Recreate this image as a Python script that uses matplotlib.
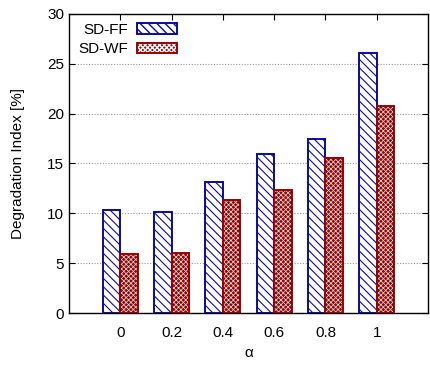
import numpy as np
import matplotlib.pyplot as plt
from matplotlib.patches import Patch

plt.rcParams['font.family'] = ['Liberation Sans', 'DejaVu Sans']

alphas = ['0', '0.2', '0.4', '0.6', '0.8', '1']
sd_ff = [10.3, 10.1, 13.1, 16.0, 17.5, 26.1]
sd_wf = [5.9, 6.0, 11.3, 12.3, 15.6, 20.8]

blue = '#0a0a9a'
red = '#9a0000'
fs = 11

fig = plt.figure(figsize=(4.30, 3.66), dpi=100)
ax = fig.add_axes([0.1605, 0.1448, 0.835, 0.817])

x = np.arange(len(alphas))
w = 0.34
with plt.rc_context({'hatch.linewidth': 0.8}):
    ax.bar(x - w / 2, sd_ff, w, facecolor='white', edgecolor=blue, hatch='\\\\\\\\', linewidth=1.4, zorder=3)
    h1 = Patch(facecolor='white', edgecolor=blue, hatch='\\\\\\\\', linewidth=1.4)
with plt.rc_context({'hatch.linewidth': 0.45}):
    # red bars: solid fill with white cross hatch, then dark outline
    ax.bar(x + w / 2, sd_wf, w, facecolor=red, edgecolor='white', hatch='xxxxxxx', linewidth=0, zorder=3)
    h2a = Patch(facecolor=red, edgecolor='white', hatch='xxxxxxx', linewidth=0)
ax.bar(x + w / 2, sd_wf, w, fill=False, edgecolor=red, linewidth=1.4, zorder=4)
h2b = Patch(fill=False, edgecolor=red, linewidth=1.4)

ax.set_xlim(-1, 6)
ax.set_ylim(0, 30)
ax.set_xticks(x)
ax.set_xticklabels(alphas)
ax.set_yticks(np.arange(0, 31, 5))
ax.tick_params(direction='in', top=True, right=True, labelsize=fs, length=4)
ax.tick_params(axis='x', pad=9)
ax.yaxis.grid(True, linestyle=(0, (1, 1.5)), color='#999999', linewidth=0.8, zorder=0)
for s in ax.spines.values():
    s.set_linewidth(1.0)

ax.set_xlabel('α', fontsize=fs, labelpad=5)
ax.set_ylabel('Degradation Index [%]', fontsize=fs, labelpad=16)

ax.legend([h1, (h2a, h2b)], ['SD-FF', 'SD-WF'], loc='upper left', frameon=False, markerfirst=False,
          fontsize=fs, handlelength=2.6, handleheight=0.7, borderaxespad=0.2,
          labelspacing=0.35, handletextpad=0.6, bbox_to_anchor=(0.0, 1.0))

fig.savefig('out.png', dpi=100)
